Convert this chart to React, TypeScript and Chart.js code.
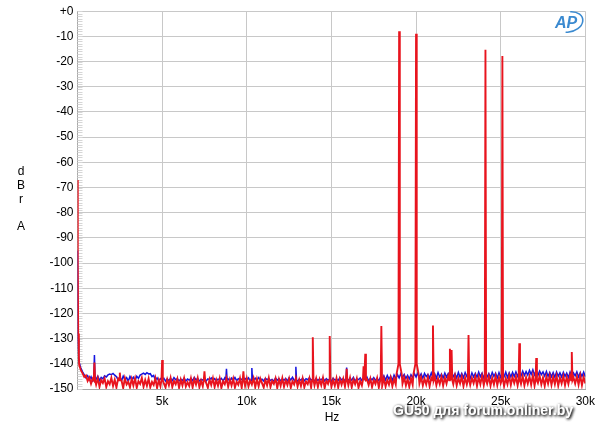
import React, { useEffect, useRef } from 'react';
import { Chart, registerables } from 'chart.js';

Chart.register(...registerables);

// ---- Data ----
const FLOOR_START_HZ = 100;
const FLOOR_STEP_HZ = 100;

const xTickValues = [5000, 10000, 15000, 20000, 25000, 30000];
const xTickLabels = ['5k', '10k', '15k', '20k', '25k', '30k'];

const redOnsetHz = [0, 15, 40, 80];
const redOnsetDb = [-67, -100, -128, -137];
const blueOnsetHz = [0, 30, 70];
const blueOnsetDb = [-95, -130, -137];

// noise floor, one value per 100 Hz from 100 Hz to 30 kHz
const redFloorDb = [
  -140.5, -142.5, -143.8, -145.2, -144.6, -146.8, -145.5, -147.9, -145.9, -146.6, -148.3, -145.7, -149.1, -146.4, -147.6, -145.8, -149.2, -146.9, -148.1, -145.6,
  -148.8, -146.3, -149.4, -145.9, -147.7, -146.6, -149.6, -145.7, -148.2, -147.1, -149.3, -146, -148.6, -145.8, -149.5, -146.9, -148, -145.6, -149.1, -146.4,
  -148.7, -145.9, -149.3, -147.2, -148.4, -145.7, -149.6, -146.5, -148.9, -145.8, -147.8, -149.4, -146.2, -148.5, -145.6, -149.2, -146.8, -148.1, -145.9, -149.5,
  -146.3, -148.6, -145.7, -149, -147.3, -148.8, -145.8, -149.4, -146.1, -148.2, -145.6, -149.3, -146.7, -148.9, -145.9, -147.6, -149.5, -146.2, -148.4, -145.7,
  -149.2, -146.4, -148.7, -145.8, -149.6, -146.9, -148.1, -145.6, -149.1, -146.3, -148.6, -145.9, -149.4, -147.1, -148.3, -145.7, -149.5, -146.5, -148.8, -145.8,
  -149, -146.6, -148.2, -145.7, -149.3, -146.1, -148.9, -145.9, -147.7, -149.4, -146.3, -148.5, -145.6, -149.2, -146.8, -148, -145.8, -149.6, -146.2, -148.7,
  -145.7, -149.1, -146.5, -148.4, -145.9, -149.5, -146.9, -148.2, -145.6, -149, -146.3, -148.8, -145.8, -149.3, -147, -148.1, -145.7, -149.4, -146.4, -148.6,
  -145.9, -149.2, -146.2, -148.5, -145.6, -149.6, -146.7, -148, -145.8, -149.1, -146.4, -148.7, -145.7, -149.4, -146.1, -148.3, -145.9, -149, -146.6, -148.5,
  -145.6, -149.3, -146.3, -148.1, -145.8, -149.5, -146.8, -148.6, -145.7, -149, -146.2, -148.4, -145.9, -149.2, -146.5, -148, -145.6, -149.4, -146.1, -148.7,
  -145.8, -149, -146.4, -148.3, -145.5, -148.9, -146, -148.2, -145.3, -147.6, -144.8, -147.9, -145.4, -148.6, -146, -149.1, -145.7, -148.3, -145.2, -147.4,
  -144.7, -147.8, -145.3, -148.6, -145.9, -148.2, -145.2, -148.9, -145.6, -147.7, -145, -148.5, -145.8, -148, -145.1, -148.7, -145.5, -147.9, -144.9, -148.4,
  -145.4, -148.1, -144.8, -148.6, -145.7, -147.8, -145.1, -148.9, -145.5, -148.2, -144.9, -148.4, -145.6, -147.7, -145, -148.8, -145.3, -148.1, -144.8, -148.5,
  -145.5, -147.9, -145.1, -148.7, -145.6, -148.2, -144.9, -148.5, -145.4, -147.8, -145, -148.9, -145.7, -148.1, -144.8, -148.4, -145.3, -147.7, -145.1, -148.6,
  -145.6, -148, -144.9, -148.6, -145.4, -147.9, -145, -148.3, -144.6, -148.7, -145.3, -147.6, -144.8, -148.2, -145.5, -148.8, -145.1, -147.9, -144.7, -148.4,
  -145.2, -148.1, -144.8, -148.7, -145.5, -147.8, -144.9, -148.5, -145.3, -148, -144.7, -148.6, -145.4, -147.9, -145, -148.3, -144.6, -148.5, -145.2, -147.8,
];

const blueFloorDb = [
  -139.5, -141.8, -143.2, -144.4, -145.6, -144.7, -146.3, -145.1, -146.8, -145.3, -146.1, -144.9, -146.6, -145.4, -146, -144.8, -145.2, -144.4, -144.1, -144.3,
  -143.8, -144.5, -145.1, -146.4, -145.2, -146.7, -144.9, -146.2, -145.5, -146.9, -145, -146.3, -145.3, -146.6, -144.9, -145.8, -144.5, -144.1, -143.7, -144.2,
  -143.5, -144, -143.9, -145.1, -144.6, -146.5, -145.6, -146.8, -145.9, -146.4, -145.7, -146.9, -146, -146.6, -145.8, -146.7, -145.5, -146.3, -145.9, -146.8,
  -146.1, -146.6, -145.7, -146.9, -146, -146.5, -145.8, -146.7, -145.4, -146.4, -145.9, -146.8, -146.2, -146.5, -145.7, -146.9, -146, -146.3, -145.6, -146.6,
  -145.9, -146.7, -146.1, -146.4, -145.8, -146.8, -145.6, -146.5, -146, -146.9, -145.7, -146.5, -145.4, -146.7, -145.9, -146.3, -146.1, -146.8, -145.8, -146.4,
  -145.6, -146.9, -146, -146.4, -145.7, -146.7, -145.5, -146.4, -146.1, -146.8, -145.8, -146.3, -145.9, -146.6, -146.2, -146.9, -145.7, -146.5, -145.9, -146.7,
  -146, -146.5, -145.8, -146.8, -145.6, -146.4, -145.3, -146.6, -145.9, -146.9, -146.1, -146.5, -145.7, -146.7, -145.9, -146.3, -145.5, -146.5, -146, -146.8,
  -145.8, -146.6, -146.1, -146.4, -145.6, -146.8, -145.9, -146.5, -146, -146.9, -145.7, -146.4, -146.2, -146.6, -145.5, -146.4, -145.9, -146.7, -146.1, -146.5,
  -145.7, -146.5, -145.4, -146.9, -146, -146.3, -145.6, -146.6, -145.9, -146.4, -145.3, -146.8, -145.8, -146.4, -145.5, -146.5, -145.9, -146.7, -145.2, -146.3,
  -144.8, -146.4, -144.6, -146.1, -144.9, -146.6, -144.5, -145.9, -144.3, -145.6, -143.9, -145.4, -144.2, -145.8, -144.6, -146, -144.3, -145.5, -143.9, -145.2,
  -143.7, -145.3, -144, -145.7, -143.8, -145.1, -144.2, -145.6, -143.6, -145.4, -143.9, -145.7, -143.5, -145.2, -144.1, -145.6, -143.7, -145.3, -143.9, -145.5,
  -143.6, -145.1, -143.9, -145.6, -143.4, -145.3, -143.8, -145.5, -143.5, -145, -144, -145.7, -143.6, -145.2, -143.8, -145.4, -143.3, -145.1, -143.7, -145.6,
  -143.5, -145.2, -143.9, -145.5, -143.4, -145, -143.7, -145.6, -143.5, -145.3, -143.8, -145.1, -143.3, -145.4, -143.6, -145.2, -143.4, -145, -143.2, -144.9,
  -143.3, -144.8, -142.9, -144.6, -143.1, -144.5, -142.6, -144.2, -142.4, -144.4, -142.7, -144.6, -142.9, -144.3, -143.2, -144.8, -143, -145, -143.4, -145.1,
  -143.5, -145.3, -143.2, -144.9, -143.6, -145.2, -143.4, -145, -143.7, -145.4, -143.3, -145.1, -143.6, -144.8, -143.2, -145.2, -143.5, -145, -143.3, -145.1,
];

const redSpikeHz = [1000, 2500, 5000, 7500, 9800, 13900, 14900, 15900, 16900, 17000, 17950, 19000, 20000, 21000, 22000, 22100, 23100, 24100, 25100, 26100, 27100, 29200];
const redSpikeDb = [-139.5, -143.5, -138.5, -143, -143, -129.5, -129, -142, -141, -136, -125, -8, -9, -124.8, -134, -134.5, -128.6, -15.3, -17.8, -131.8, -137.7, -135.3];

const blueSpikeHz = [1000, 8800, 10300, 12900, 15900];
const blueSpikeDb = [-136.5, -142, -141.7, -141.2, -141.5];

// shoulders at the foot of the two main tones
const redShoulderHz = [18850, 18920, 19080, 19150, 19850, 19920, 20080, 20150];
const redShoulderDb = [-144, -141.5, -141.5, -144, -144, -141.5, -141.5, -144];

const SPIKE_HALF_WIDTH_HZ = 40;
const SPIKE_BASE_DB = -146.5;

type Pt = { x: number; y: number };

function buildSeries(
  onsetHz: number[], onsetDb: number[], floorDb: number[],
  spikeHz: number[], spikeDb: number[], extraHz: number[] = [], extraDb: number[] = []
): Pt[] {
  const pts: Pt[] = [];
  onsetHz.forEach((f, i) => pts.push({ x: f, y: onsetDb[i] }));
  const excluded = [...spikeHz, ...extraHz];
  floorDb.forEach((v, i) => {
    const f = FLOOR_START_HZ + i * FLOOR_STEP_HZ;
    if (excluded.some((s) => Math.abs(s - f) <= SPIKE_HALF_WIDTH_HZ)) return;
    pts.push({ x: f, y: v });
  });
  extraHz.forEach((f, i) => pts.push({ x: f, y: extraDb[i] }));
  spikeHz.forEach((f, i) => {
    const hasShoulder = extraHz.some((s) => Math.abs(s - f) < 200);
    const base = hasShoulder ? -140 : SPIKE_BASE_DB;
    pts.push({ x: f - SPIKE_HALF_WIDTH_HZ, y: base }, { x: f, y: spikeDb[i] }, { x: f + SPIKE_HALF_WIDTH_HZ, y: base });
  });
  pts.sort((a, b) => a.x - b.x);
  return pts;
}

const FONT_FAMILY = '"Liberation Sans", Arial, sans-serif';

const extrasPlugin = {
  id: 'extras',
  beforeDatasetsDraw(chart: any) {
    const { ctx, chartArea, scales } = chart;
    ctx.save();
    ctx.strokeStyle = '#d6d6d6';
    ctx.lineWidth = 1;
    ctx.beginPath();
    for (let v = 0; v >= -150; v -= 1) {
      const y = Math.round(scales.y.getPixelForValue(v)) + 0.5;
      ctx.moveTo(chartArea.left, y);
      ctx.lineTo(chartArea.left + 5, y);
    }
    ctx.stroke();
    ctx.restore();
  },
  afterDraw(chart: any) {
    const { ctx } = chart;
    ctx.save();
    ctx.fillStyle = '#000';
    ctx.font = `12px ${FONT_FAMILY}`;
    ctx.textAlign = 'center';
    ctx.textBaseline = 'middle';
    ctx.fillText('d', 21, 172);
    ctx.fillText('B', 21, 186);
    ctx.fillText('r', 21, 200);
    ctx.fillText('A', 21, 227);
    ctx.fillText('Hz', 332, 418);

    // watermark
    ctx.font = `bold 14px ${FONT_FAMILY}`;
    ctx.textAlign = 'left';
    ctx.shadowColor = 'rgba(0,0,0,0.85)';
    ctx.shadowBlur = 3;
    ctx.shadowOffsetX = 1;
    ctx.shadowOffsetY = 1;
    ctx.fillStyle = '#ffffff';
    ctx.fillText('GU50 для forum.onliner.by', 393, 411);
    ctx.fillText('GU50 для forum.onliner.by', 393, 411);
    ctx.shadowColor = 'transparent';

    // AP logo
    ctx.fillStyle = '#3b8ad0';
    ctx.strokeStyle = '#3b8ad0';
    ctx.font = `italic bold 16px ${FONT_FAMILY}`;
    ctx.fillText('AP', 555, 24);
    ctx.lineWidth = 1.6;
    ctx.beginPath();
    ctx.ellipse(569, 22, 14, 10, -0.25, -1.3, 2.0);
    ctx.stroke();
    ctx.restore();
  },
};

export default function App() {
  const ref = useRef<HTMLCanvasElement | null>(null);

  useEffect(() => {
    if (!ref.current) return;
    const redPts = buildSeries(redOnsetHz, redOnsetDb, redFloorDb, redSpikeHz, redSpikeDb, redShoulderHz, redShoulderDb);
    const bluePts = buildSeries(blueOnsetHz, blueOnsetDb, blueFloorDb, blueSpikeHz, blueSpikeDb);
    const chart = new Chart(ref.current, {
      type: 'line',
      data: {
        datasets: [
          { label: 'Ch B', data: redPts, borderColor: '#e8141e', borderWidth: 1.9, pointRadius: 0, tension: 0, fill: false },
          { label: 'Ch A', data: bluePts, borderColor: '#1414e0', borderWidth: 1.5, pointRadius: 0, tension: 0, fill: false },
        ],
      },
      options: {
        responsive: false,
        animation: false,
        events: [],
        layout: { padding: { top: 10, right: 13, left: 0, bottom: 0 } },
        plugins: { legend: { display: false }, tooltip: { enabled: false } },
        scales: {
          x: {
            type: 'linear',
            min: 0,
            max: 30000,
            afterFit: (s: any) => { s.height = 45; },
            afterBuildTicks: (s: any) => { s.ticks = [0, ...xTickValues].map((v) => ({ value: v })); },
            ticks: {
              autoSkip: false,
              maxRotation: 0,
              padding: 5,
              color: '#000',
              font: { family: FONT_FAMILY, size: 12 },
              callback: (v: any) => {
                const i = xTickValues.indexOf(Number(v));
                return i >= 0 ? xTickLabels[i] : '';
              },
            },
            grid: { color: '#c8c8c8', drawTicks: false },
            border: { color: '#a8a8a8' },
          },
          y: {
            type: 'linear',
            min: -150,
            max: 0,
            afterFit: (s: any) => { s.width = 77.5; },
            ticks: {
              stepSize: 10,
              padding: 4,
              color: '#000',
              font: { family: FONT_FAMILY, size: 12 },
              callback: (v: any) => (Number(v) === 0 ? '+0' : String(v)),
            },
            grid: { color: '#c8c8c8', drawTicks: false },
            border: { color: '#a8a8a8' },
          },
        },
      },
      plugins: [extrasPlugin],
    });
    return () => chart.destroy();
  }, []);

  return (
    <div style={{ position: 'fixed', left: 0, top: 0, width: 600, height: 434, background: '#fff' }}>
      <canvas ref={ref} width={600} height={434} style={{ display: 'block', width: 600, height: 434 }} />
    </div>
  );
}
